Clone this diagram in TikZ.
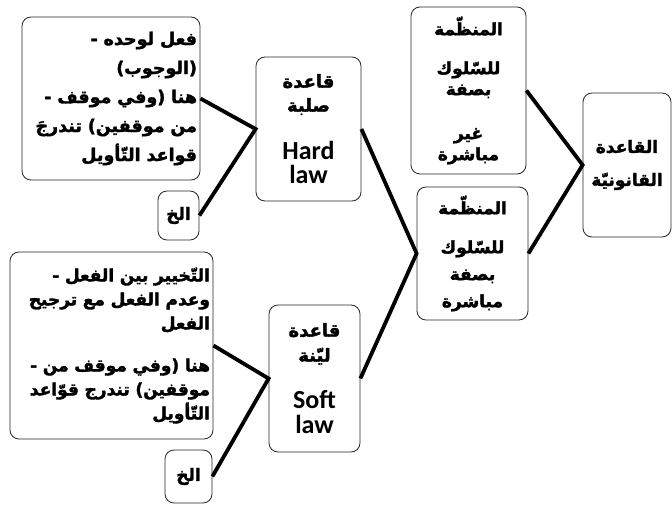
\documentclass[tikz,border=0pt]{standalone}
\usepackage{fontspec}
\newfontfamily\arabicfont[Script=Arabic,BoldFeatures={FakeBold=2}]{DejaVu Sans}
\newfontfamily\latinfont{Carlito}
\TeXXeTstate=1
\newcommand{\artext}[1]{\beginR #1\endR}
\usetikzlibrary{positioning}

\begin{document}
\begin{tikzpicture}[
  x=1pt,y=-1pt,
  box/.style={draw=black!85,rounded corners=9pt,line width=0.8pt,
    inner sep=2pt,align=center},
  note box/.style={box,align=right,inner xsep=3pt},
  link/.style={line width=3.8pt}]

  \useasboundingbox (0,0) rectangle (672,505);

  % right column
  \node[box,minimum width=88pt,minimum height=144pt,
    font=\arabicfont\bfseries\fontsize{17}{33}\selectfont] (rule) at (627,165)
    {\artext{القاعدة}\\ \artext{القانونيّة}};

  % middle column
  \node[box,minimum width=115pt,minimum height=167pt,
    font=\arabicfont\bfseries\fontsize{17}{21}\selectfont] (indirect) at (468.5,90.5)
    {\artext{المنظّمة}\\[18pt] \artext{للسّلوك}\\ \artext{بصفة}\\[23pt]
     \artext{غير}\\ \artext{مباشرة}};
  \node[box,minimum width=111pt,minimum height=133pt,
    font=\arabicfont\bfseries\fontsize{17}{27}\selectfont] (direct) at (472.5,253.5)
    {\artext{المنظّمة}\\[12pt] \artext{للسّلوك}\\ \artext{بصفة}\\ \artext{مباشرة}};

  % hard law / soft law
  \node[box,minimum width=105pt,minimum height=144pt,
    font=\arabicfont\bfseries\fontsize{18}{24}\selectfont] (hard) at (308.5,129)
    {\artext{قاعدة}\\ \artext{صلبة}\\[24pt]
     {\latinfont\fontsize{26}{29}\selectfont Hard}\\
     {\latinfont\fontsize{26}{29}\selectfont law}};
  \node[box,minimum width=91pt,minimum height=147pt,
    font=\arabicfont\bfseries\fontsize{18}{25}\selectfont] (soft) at (314.5,378.5)
    {\artext{قاعدة}\\ \artext{ليّنة}\\[22pt]
     {\latinfont\fontsize{26}{32}\selectfont Soft}\\
     {\latinfont\fontsize{26}{32}\selectfont law}};

  % notes on the left
  \node[note box,minimum width=178pt,minimum height=163pt,text width=172pt,
    font=\arabicfont\bfseries\fontsize{17.5}{29}\selectfont] (hardnote) at (111,98.5)
    {\artext{فعل لوحده -}\\ \artext{(الوجوب)}\\ \artext{هنا (وفي موقف -}\\
     \artext{من موقفين) تندرجَ}\\ \artext{قواعد التّأويل}};
  \node[box,minimum width=41pt,minimum height=49pt,
    font=\arabicfont\bfseries\fontsize{17}{20}\selectfont] (hardetc) at (178.5,215.5)
    {\artext{الخ}};
  \node[note box,minimum width=203pt,minimum height=187pt,text width=197pt,
    font=\arabicfont\bfseries\fontsize{17}{24}\selectfont] (softnote) at (111.5,345.5)
    {\artext{التّخيير بين الفعل -}\\ \artext{وعدم الفعل مع ترجيح}\\
     \artext{الفعل}\\[18pt] \artext{هنا (وفي موقف من -}\\
     \artext{موقفين) تندرج قوّاعد}\\ \artext{التّأويل}};
  \node[box,minimum width=47pt,minimum height=53pt,
    font=\arabicfont\bfseries\fontsize{17}{20}\selectfont] (softetc) at (188.5,476.5)
    {\artext{الخ}};

  % connectors
  \draw[link] (indirect.east) -- (rule.west) -- (direct.east);
  \draw[link] (hard.east) -- (direct.west) -- (soft.east);
  \draw[link] (hardnote.east) -- (hard.west) -- (hardetc.east);
  \draw[link] (softnote.east) -- (soft.west) -- (softetc.east);
\end{tikzpicture}
\end{document}
